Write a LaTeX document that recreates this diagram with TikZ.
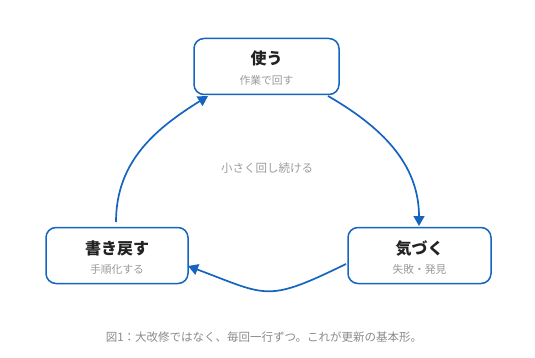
\documentclass[tikz,border=0pt]{standalone}
\usepackage{fontspec}
\setmainfont{Noto Sans CJK JP}
\usetikzlibrary{arrows.meta}
\definecolor{bluec}{HTML}{1565C0}
\definecolor{darkt}{HTML}{222222}
\definecolor{subt}{HTML}{9A9A9A}
\definecolor{capt}{HTML}{8A8A8A}
\begin{document}
\begin{tikzpicture}[x=1pt,y=-1pt,
  box/.style={draw=bluec,line width=1.5pt,rounded corners=10pt,fill=white,minimum width=#1,minimum height=56pt,inner sep=0pt},
  box/.default=144pt,
  ttl/.style={font=\fontsize{16}{18}\selectfont\bfseries,text=darkt,inner sep=0pt},
  sub/.style={font=\fontsize{10.8}{12}\selectfont,text=subt,inner sep=0pt},
  conn/.style={draw=bluec,line width=1.7pt,-{Triangle[length=10pt,width=11pt]}}]
\useasboundingbox (0,0) rectangle (535,358);
\node[box=145pt] (use) at (266.5,66.5) {};
\node[ttl] (useT) at (266.5,58) {使う};
\node[sub] (useS) at (266.5,80) {作業で回す};
\node[box=142pt] (back) at (117,255.5) {};
\node[ttl] (backT) at (117,248.5) {書き戻す};
\node[sub] (backS) at (117,269) {手順化する};
\node[box=143pt] (notice) at (419.5,255.5) {};
\node[ttl] (noticeT) at (419.5,248.5) {気づく};
\node[sub] (noticeS) at (419.5,269) {失敗・発見};
\node[font=\fontsize{11.5}{13}\selectfont,text=subt,inner sep=0pt] (mid) at (267,168) {小さく回し続ける};
\node[font=\fontsize{11.5}{13}\selectfont,text=capt,inner sep=0pt] (cap) at (264,337) {図1：大改修ではなく、毎回一行ずつ。これが更新の基本形。};
\coordinate (a1) at (328,96);
\coordinate (a2) at (419,226);
\coordinate (b1) at (346,264);
\coordinate (b2) at (188,266);
\coordinate (c1) at (116,222);
\coordinate (c2) at (208,96);
\draw[conn] (a1) to[out=-30,in=90] (a2);
\draw[conn] (b1) .. controls (266,303) and (268,296) .. (b2);
\draw[conn] (c1) to[out=90,in=-148] (c2);
\end{tikzpicture}
\end{document}
